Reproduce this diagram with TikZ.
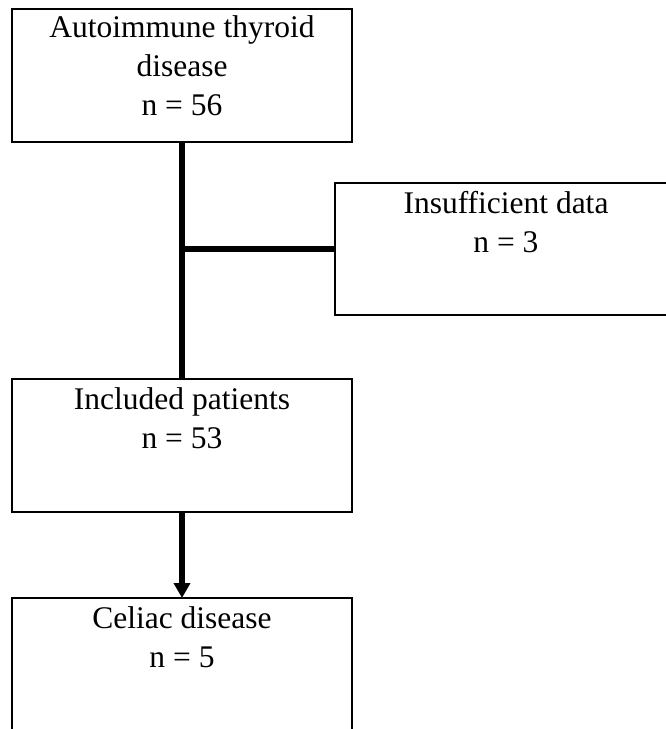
\documentclass[tikz,border=0pt]{standalone}
\usepackage{fontspec}
\setmainfont{Liberation Serif}
\usetikzlibrary{arrows.meta}
\begin{document}
\begin{tikzpicture}[x=1pt,y=-1pt,
  box/.style={draw=black, line width=1.6pt, rectangle, inner sep=0pt, outer sep=0pt, anchor=north west},
  txt/.style={align=center, inner sep=0pt, outer sep=0pt, anchor=north, font=\fontsize{31.5}{39}\selectfont},
  conn/.style={line width=6pt, draw=black}]
\useasboundingbox (0,0) rectangle (666,729);
\clip (0,0) rectangle (666,729);
\node[box, minimum width=340pt, minimum height=133pt] (top) at (12,9) {};
\node[box, minimum width=342pt, minimum height=132pt] (excl) at (335,183) {};
\node[box, minimum width=340pt, minimum height=133pt] (incl) at (12,379) {};
\node[box, minimum width=340pt, minimum height=140pt] (celiac) at (12,598) {};
\node[txt] (toptext) at (182,16) {Autoimmune thyroid\\disease\\n = 56};
\node[txt] (excltext) at (506,191.6) {Insufficient data\\n = 3};
\node[txt] (incltext) at (182,387.6) {Included patients\\n = 53};
\node[txt] (celiactext) at (182,606.6) {Celiac disease\\n = 5};
\draw[conn] (top.south) -- (incl.north);
\draw[conn] (top.south |- excl.west) -- (excl.west);
\draw[conn, -{Triangle[length=15pt,width=16pt]}] (incl.south) -- (celiac.north);
\end{tikzpicture}
\end{document}
